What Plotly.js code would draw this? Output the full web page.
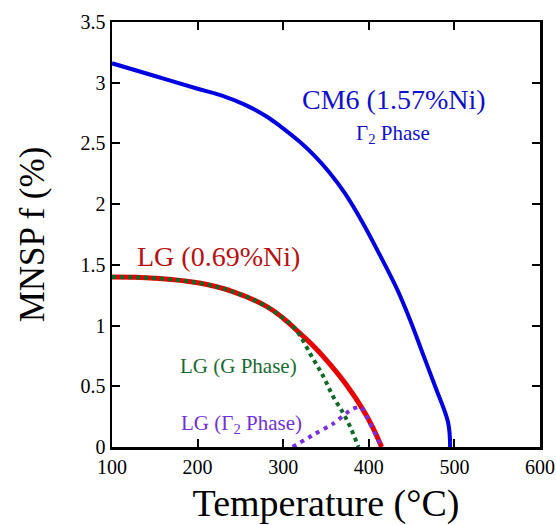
<!DOCTYPE html>
<html>
<head>
<meta charset="utf-8">
<script src="https://cdn.plot.ly/plotly-3.0.1.min.js"></script>
<style>html,body{margin:0;padding:0;background:#fff;}#chart{width:556px;height:525px;}</style>
</head>
<body>
<div id="chart"></div>
<script>
// CM6 (1.57%Ni) Γ2 phase
const cm6Temp = [100, 150, 200, 230, 255, 281, 296, 319, 337, 354, 372, 393, 413, 433, 448, 463, 478, 492.7, 495];
const cm6F    = [3.16, 3.055, 2.95, 2.89, 2.82, 2.72, 2.645, 2.515, 2.395, 2.26, 2.09, 1.845, 1.58, 1.30, 1.05, 0.77, 0.49, 0.20, 0];
// LG (0.69%Ni) total
const lgTemp = [100, 150, 202, 241, 280, 300, 319, 337, 356, 374, 393, 404, 415];
const lgF    = [1.40, 1.39, 1.35, 1.28, 1.16, 1.06, 0.94, 0.82, 0.67, 0.51, 0.31, 0.17, 0];
// LG G phase
const gTemp = [100, 150, 202, 241, 280, 300, 315, 333, 347, 358, 370, 378, 388];
const gF    = [1.40, 1.39, 1.35, 1.28, 1.16, 1.06, 0.965, 0.75, 0.58, 0.42, 0.28, 0.17, 0];
// LG Γ2 phase
const g2Temp = [311, 335, 358, 380, 391, 401, 408, 415];
const g2F    = [0, 0.10, 0.19, 0.31, 0.33, 0.20, 0.10, 0];

const xTicks = [100, 200, 300, 400, 500, 600];
const yTicks = [0, 0.5, 1, 1.5, 2, 2.5, 3, 3.5];
const yTickText = ['0', '0.5', '1', '1.5', '2', '2.5', '3', '3.5'];

const serif = '"Liberation Serif", "Times New Roman", serif';

const traces = [
  {x: cm6Temp, y: cm6F, mode: 'lines', line: {color: '#0000e0', width: 4, shape: 'spline', smoothing: 1}},
  {x: lgTemp, y: lgF, mode: 'lines', line: {color: '#e60000', width: 5, shape: 'spline', smoothing: 1.2}},
  {x: gTemp, y: gF, mode: 'lines', line: {color: '#0b6a26', width: 4, dash: '4px,4px', shape: 'spline', smoothing: 1}},
  {x: g2Temp, y: g2F, mode: 'lines', line: {color: '#7a2ee0', width: 4, dash: '4px,5px', shape: 'spline', smoothing: 0.5}}
];

const layout = {
  width: 556, height: 525,
  margin: {l: 112, r: 16, t: 22, b: 78},
  paper_bgcolor: '#fff', plot_bgcolor: '#fff',
  showlegend: false,
  font: {family: serif, color: '#000', size: 20},
  xaxis: {
    range: [100, 600], tickvals: xTicks, ticktext: xTicks.map(String),
    showgrid: false, zeroline: false, showline: true, linecolor: '#000', linewidth: 2.5,
    mirror: 'ticks', ticks: 'inside', ticklen: 8, tickwidth: 2, tickcolor: '#000',
    tickfont: {family: serif, size: 20, color: '#000'},
    title: {text: 'Temperature (°C)', font: {family: serif, size: 38, color: '#000'}, standoff: 17}
  },
  yaxis: {
    range: [0, 3.5], tickvals: yTicks, ticktext: yTickText,
    showgrid: false, zeroline: false, showline: true, linecolor: '#000', linewidth: 2.5,
    mirror: 'ticks', ticks: 'inside', ticklen: 8, tickwidth: 2, tickcolor: '#000',
    tickfont: {family: serif, size: 20, color: '#000'},
    title: {text: 'MNSP f (%)', font: {family: serif, size: 35, color: '#000'}, standoff: 26}
  },
  annotations: [
    {x: 429, y: 2.86, xref: 'x', yref: 'y', text: 'CM6 (1.57%Ni)', showarrow: false,
     font: {family: serif, size: 28, color: '#1010cc'}},
    {x: 428, y: 2.58, xref: 'x', yref: 'y', text: 'Γ<sub>2</sub> Phase', showarrow: false,
     font: {family: serif, size: 21, color: '#1010cc'}},
    {x: 224.6, y: 1.57, xref: 'x', yref: 'y', text: 'LG (0.69%Ni)', showarrow: false,
     font: {family: serif, size: 28, color: '#b81010'}},
    {x: 248, y: 0.67, xref: 'x', yref: 'y', text: 'LG (G Phase)', showarrow: false,
     font: {family: serif, size: 21, color: '#1a6a30'}},
    {x: 251, y: 0.19, xref: 'x', yref: 'y', text: 'LG (Γ<sub>2</sub> Phase)', showarrow: false,
     font: {family: serif, size: 21, color: '#7030d8'}}
  ]
};

Plotly.newPlot('chart', traces, layout, {displayModeBar: false, staticPlot: true});
</script>
</body>
</html>
